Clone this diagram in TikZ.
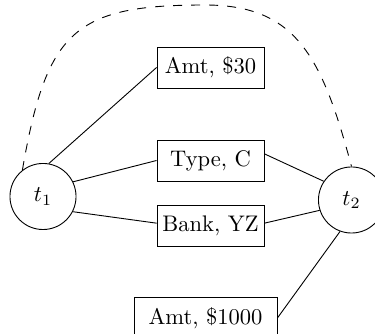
\documentclass[tikz,border=0pt]{standalone}
\begin{document}
\begin{tikzpicture}[x=0.4435pt, y=-0.4435pt,
  txnode/.style={draw, circle, minimum size=29.3pt, inner sep=0pt, line width=0.4pt},
  attr/.style={draw, rectangle, minimum width=47.45pt, minimum height=18.2pt, inner sep=2pt, line width=0.4pt},
  link/.style={line width=0.4pt},
  conflict/.style={line width=0.4pt, dash pattern=on 4pt off 4pt}]
  \useasboundingbox (0,0) rectangle (375,334);
  \clip (0,0) rectangle (375,334);

  % transactions
  \node[txnode] (t1) at (43,196.5) {$t_1$};
  \node[txnode] (t2) at (351.5,200) {$t_2$};

  % attribute boxes
  \node[attr] (a30)  at (210.5,67.5) {Amt, \$30};
  \node[attr] (type) at (210.5,160.5) {Type, C};
  \node[attr] (bank) at (210.5,226) {Bank, YZ};
  \node[attr, minimum width=63.4pt] (a1000) at (205.5,318) {Amt, \$1000};

  % links from t1
  \draw[link] (t1.80)  -- (a30.west);
  \draw[link] (t1.26)  -- (type.west);
  \draw[link] (t1.-27) -- (bank.177);

  % links to t2
  \draw[link] (type.7.5) -- (t2.146);
  \draw[link] (bank.3)   -- (t2.198);
  \draw[link] (t2.250)   -- (a1000.east);

  % dashed arc between the two transactions
  \coordinate (apex) at (205,5);
  \draw[conflict] (t1.128) .. controls (46.5,30) and (75,5) .. (apex)
                           .. controls (295,5) and (321.8,55) .. (t2.north);
\end{tikzpicture}
\end{document}
